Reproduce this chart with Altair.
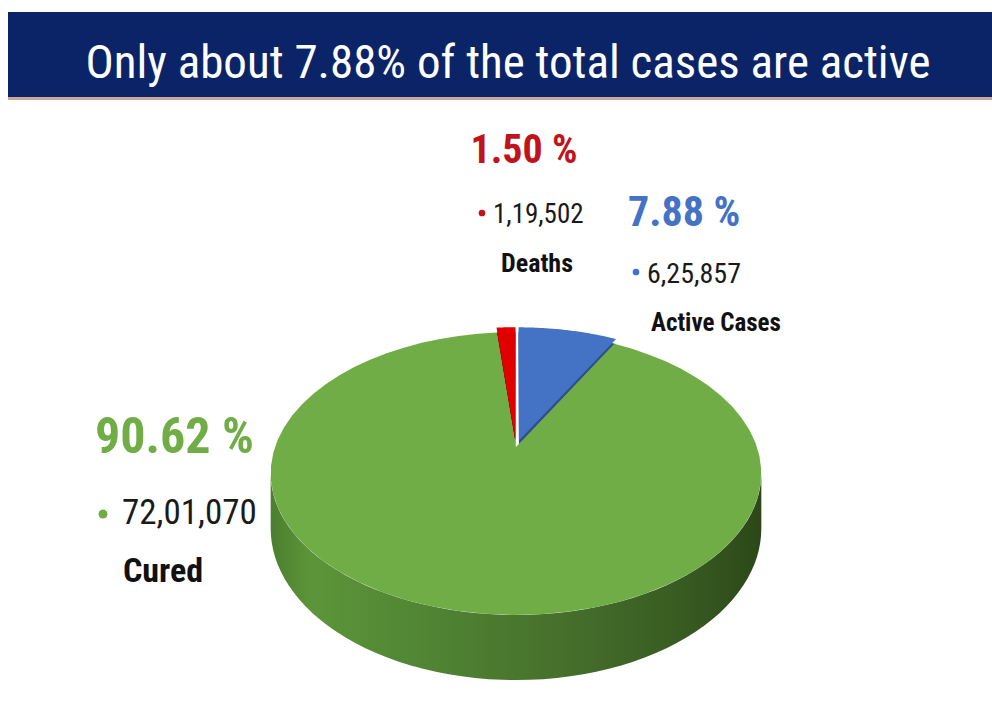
import altair as alt
import pandas as pd

# ---------------- data ----------------
categories = ["Active Cases", "Cured", "Deaths"]
percent = [7.88, 90.62, 1.50]
counts = ["6,25,857", "72,01,070", "1,19,502"]
slice_order = [0, 1, 2]
title_text = "Only about 7.88% of the total cases are active"

df = pd.DataFrame({"category": categories, "pct": percent,
                   "count": counts, "ord": slice_order})

W, H = 992, 707
# perspective pie geometry
CX, CY, A, B, K, D = 516, 447, 241, 136.5, 0.187, 53
EXPLODE = 0.05

FONT = "Roboto Condensed, DejaVu Sans Condensed, sans-serif"
TITLE_FONT = "Roboto Condensed, DejaVu Sans Condensed, sans-serif"

top_colors = ["#4472C4", "#70AD47", "#E00000"]
edge_colors = ["#2C4F8E", "#4A7A2C", "#8E0000"]
label_colors = {"Active Cases": "#4472C4", "Cured": "#70AD47", "Deaths": "#C0141C"}

xenc = alt.X("px:Q", scale=alt.Scale(domain=[0, W], nice=False, zero=False), axis=None)
yenc = alt.Y("py:Q", scale=alt.Scale(domain=[H, 0], nice=False, zero=False), axis=None)


def pie_base():
    return (alt.Chart(df)
            .transform_joinaggregate(total="sum(pct)")
            .transform_window(cum="sum(pct)", sort=[alt.SortField("ord")], frame=[None, 0])
            .transform_calculate(a0="2*PI*(datum.cum-datum.pct)/datum.total")
            .transform_calculate(a1="2*PI*datum.cum/datum.total"))


# ----- cylinder side (front part of the Cured slice) -----
side_gradient = alt.Gradient(
    gradient="linear", x1=0, y1=0, x2=1, y2=0,
    stops=[alt.GradientStop(color="#4b7e2e", offset=0),
           alt.GradientStop(color="#5c9539", offset=0.08),
           alt.GradientStop(color="#518634", offset=0.3),
           alt.GradientStop(color="#466f2b", offset=0.6),
           alt.GradientStop(color="#375a21", offset=0.85),
           alt.GradientStop(color="#2c4819", offset=1)])

side = (pie_base()
        .transform_filter("datum.category == 'Cured'")
        .transform_calculate(sa=f"max(datum.a0, acos(-{K}))")
        .transform_calculate(sb=f"min(datum.a1, 2*PI - acos(-{K}))")
        .transform_calculate(i="sequence(0, 122)")
        .transform_flatten(["i"])
        .transform_calculate(bot="datum.i > 60 ? 1 : 0")
        .transform_calculate(th="datum.i <= 60 ? datum.sa + (datum.sb-datum.sa)*datum.i/60 : datum.sb - (datum.sb-datum.sa)*(datum.i-61)/60")
        .transform_calculate(u="sin(datum.th)")
        .transform_calculate(v="cos(datum.th)")
        .transform_calculate(px=f"{CX} + {A}*datum.u/(1+{K}*datum.v)")
        .transform_calculate(py=f"{CY} - {B}*datum.v/(1+{K}*datum.v) + datum.bot*{D}/(1+{K}*datum.v)")
        .mark_line(filled=True, fill=side_gradient, strokeWidth=0)
        .encode(x=xenc, y=yenc, order=alt.Order("i:Q")))


def wedge(shift, colors, only_exploded=False):
    base = pie_base()
    if only_exploded:
        base = base.transform_filter("datum.category != 'Cured'")
    return (base
            .transform_calculate(ex=f"datum.category == 'Cured' ? 0 : {EXPLODE}")
            .transform_calculate(mid="(datum.a0 + datum.a1)/2")
            .transform_calculate(k="sequence(0, 62)")
            .transform_flatten(["k"])
            .transform_calculate(th="datum.a0 + (datum.a1 - datum.a0)*(datum.k - 1)/60")
            .transform_calculate(u="(datum.k == 0 ? 0 : sin(datum.th)) + datum.ex*sin(datum.mid)")
            .transform_calculate(v="(datum.k == 0 ? 0 : cos(datum.th)) + datum.ex*cos(datum.mid)")
            .transform_calculate(px=f"{CX} + {A}*datum.u/(1+{K}*datum.v)")
            .transform_calculate(py=f"{CY} - {B}*datum.v/(1+{K}*datum.v) + {shift}")
            .mark_line(filled=True, strokeWidth=0)
            .encode(x=xenc, y=yenc, order=alt.Order("k:Q"),
                    detail="category:N",
                    color=alt.Color("category:N",
                                    scale=alt.Scale(domain=categories, range=colors),
                                    legend=None)))


exploded_sides = wedge(5, edge_colors, only_exploded=True)
top = wedge(0, top_colors)

# ----- title banner -----
tdf = pd.DataFrame({"t": [title_text]})
banner = alt.Chart(tdf).mark_rect(color="#0B2468").encode(
    x=alt.value(8), x2=alt.value(W), y=alt.value(12), y2=alt.value(97))
banner_shadow = alt.Chart(tdf).mark_rect(color="#C9A79C").encode(
    x=alt.value(8), x2=alt.value(W), y=alt.value(97), y2=alt.value(100))
title = alt.Chart(tdf).mark_text(
    font=TITLE_FONT, fontSize=47, color="white", align="center", baseline="alphabetic"
).encode(x=alt.value(508), y=alt.value(78), text="t:N")


def label(cat, expr, x, y, size, color, bold=False, align="left"):
    return (alt.Chart(df)
            .transform_filter(f"datum.category == '{cat}'")
            .transform_calculate(t=expr)
            .mark_text(font=FONT, fontSize=size, color=color, align=align,
                       baseline="alphabetic", fontWeight="bold" if bold else "normal")
            .encode(x=alt.value(x), y=alt.value(y), text="t:N"))


def bullet(cat, x, y, size):
    return (alt.Chart(df)
            .transform_filter(f"datum.category == '{cat}'")
            .mark_circle(size=size, opacity=1, color=label_colors[cat])
            .encode(x=alt.value(x), y=alt.value(y)))


pct_expr = "format(datum.pct, '.2f') + ' %'"

labels = [
    # Deaths
    label("Deaths", pct_expr, 524, 163, 40, label_colors["Deaths"], bold=True, align="center"),
    bullet("Deaths", 482, 213, 45),
    label("Deaths", "datum.count", 493, 223, 27, "#1a1a1a"),
    label("Deaths", "datum.category", 537, 272, 26, "#111111", bold=True, align="center"),
    # Active
    label("Active Cases", pct_expr, 628, 226, 42, label_colors["Active Cases"], bold=True),
    bullet("Active Cases", 636, 272, 45),
    label("Active Cases", "datum.count", 647, 283, 28, "#1a1a1a"),
    label("Active Cases", "datum.category", 651, 331, 25, "#111111", bold=True),
    # Cured
    label("Cured", pct_expr, 95, 453, 50, label_colors["Cured"], bold=True),
    bullet("Cured", 103, 514, 80),
    label("Cured", "datum.count", 122, 524, 35, "#1a1a1a"),
    label("Cured", "datum.category", 123, 582, 34, "#111111", bold=True),
]

chart = alt.layer(banner, banner_shadow, title, side, exploded_sides, top, *labels).resolve_scale(
    color="independent"
).properties(
    width=W, height=H, padding=0, autosize="none", background="white"
).configure_view(strokeWidth=0)

chart.save("out.html", embed_options={"renderer": "svg", "actions": False})
